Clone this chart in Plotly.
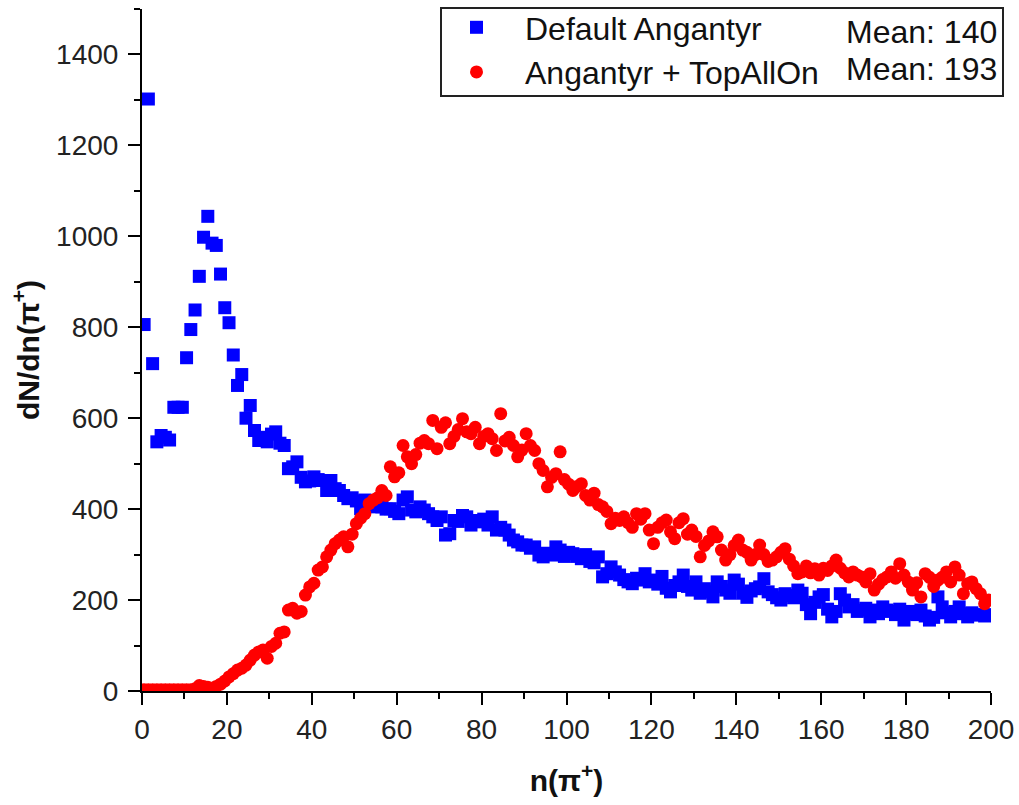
import plotly.graph_objects as go

# bin index n (points drawn at bin centres n + 0.5)
n_bins = list(range(200))
x_centres = [n + 0.5 for n in n_bins]

default_angantyr = [
    806, 1302, 720, 548, 562, 558, 552, 624, 624, 624,
    733, 795, 838, 912, 998, 1044, 985, 980, 917, 843,
    810, 739, 672, 696, 600, 628, 573, 551, 558, 548,
    565, 570, 545, 540, 489, 493, 504, 470, 460, 462,
    471, 465, 463, 441, 463, 445, 441, 430, 423, 425,
    418, 401, 420, 410, 405, 412, 405, 400, 401, 395,
    390, 420, 427, 398, 394, 405, 398, 390, 383, 375,
    383, 343, 346, 375, 373, 386, 383, 365, 375, 372,
    378, 365, 383, 354, 360, 354, 343, 332, 328, 321,
    321, 314, 317, 299, 295, 303, 299, 317, 310, 296,
    305, 302, 296, 291, 300, 285, 282, 295, 251, 258,
    273, 262, 255, 245, 240, 236, 248, 244, 258, 240,
    244, 235, 252, 226, 218, 232, 240, 255, 230, 222,
    240, 215, 225, 218, 207, 240, 230, 222, 215, 244,
    235, 215, 206, 220, 225, 229, 247, 218, 212, 205,
    200, 214, 210, 205, 222, 215, 190, 170, 195, 207,
    212, 180, 163, 175, 214, 200, 185, 190, 175, 178,
    182, 163, 178, 170, 185, 178, 175, 168, 180, 156,
    170, 175, 168, 178, 165, 156, 162, 207, 185, 172,
    163, 175, 185, 170, 163, 172, 168, 167, 165, 168,
]

angantyr_topallon = [
    3, 3, 3, 3, 3, 3, 3, 3, 3, 3,
    3, 3, 5, 12, 10, 8, 6, 10, 15, 22,
    31, 38, 46, 50, 57, 68, 79, 86, 90, 72,
    98, 105, 127, 130, 178, 182, 171, 175, 211, 229,
    237, 266, 273, 295, 310, 324, 332, 339, 317, 345,
    368, 380, 390, 412, 420, 425, 441, 430, 493, 471,
    480, 540, 515, 500, 520, 545, 551, 544, 595, 533,
    580, 590, 544, 560, 575, 599, 570, 566, 580, 544,
    560, 566, 555, 529, 610, 550, 558, 540, 515, 530,
    566, 540, 529, 500, 485, 449, 470, 478, 526, 465,
    455, 441, 450, 456, 430, 420, 435, 410, 405, 395,
    368, 380, 375, 383, 370, 360, 390, 378, 390, 354,
    324, 360, 370, 376, 350, 335, 370, 379, 345, 354,
    340, 295, 320, 330, 350, 339, 310, 288, 300, 320,
    332, 310, 305, 288, 300, 321, 300, 285, 288, 295,
    305, 313, 290, 275, 258, 262, 275, 260, 269, 255,
    270, 265, 275, 288, 270, 260, 251, 262, 255, 251,
    240, 258, 222, 235, 245, 251, 262, 248, 280, 255,
    240, 222, 238, 207, 258, 250, 230, 244, 250, 262,
    240, 273, 255, 214, 236, 240, 225, 214, 192, 200,
]

series_names = ["Default Angantyr", "Angantyr + TopAllOn"]
series_means = ["Mean: 140", "Mean: 193"]

x_tick_vals = list(range(0, 201, 20))
y_tick_vals = list(range(0, 1401, 200))

FONT = "Liberation Sans, Arial, sans-serif"

fig = go.Figure()
fig.add_trace(go.Scatter(
    x=x_centres, y=default_angantyr, mode="markers", name=series_names[0],
    marker=dict(symbol="square", size=13, color="#0000FF", line=dict(width=0)),
))
fig.add_trace(go.Scatter(
    x=x_centres, y=angantyr_topallon, mode="markers", name=series_names[1],
    marker=dict(symbol="circle", size=13, color="#FF0000", line=dict(width=0)),
))

L, R, T, B = 142, 28, 9, 114
W, H = 1019, 805
pw, ph = W - L - R, H - T - B

def px_x(p):
    return (p - L) / pw

def px_y(p):
    return (H - B - p) / ph

axis_common = dict(
    showline=True, linecolor="black", linewidth=2,
    ticks="outside", ticklen=12, tickwidth=2, tickcolor="black",
    showgrid=False, zeroline=False,
    tickfont=dict(family=FONT, size=28, color="#222222"),
    mirror=False,
)

fig.update_xaxes(
    range=[0, 200], tickvals=x_tick_vals,
    minor=dict(ticks="outside", ticklen=6, tickwidth=2, tickcolor="black", dtick=10, tick0=0),
    title=dict(text="<b>n(π<sup>+</sup>)</b>", font=dict(family=FONT, size=30, color="#111111"), standoff=26),
    **axis_common,
)
fig.update_yaxes(
    range=[0, 1500], tickvals=y_tick_vals,
    minor=dict(ticks="outside", ticklen=6, tickwidth=2, tickcolor="black", dtick=100, tick0=0),
    title=dict(text="<b>dN/dn(π<sup>+</sup>)</b>", font=dict(family=FONT, size=30, color="#111111"), standoff=8),
    ticklabelstandoff=4,
    **axis_common,
)

LEG_FONT = 32

fig.update_layout(
    width=W, height=H,
    margin=dict(l=L, r=R, t=T, b=B, autoexpand=False),
    paper_bgcolor="white", plot_bgcolor="white",
    font=dict(family=FONT, color="#111111"),
    showlegend=True,
    legend=dict(
        x=px_x(428), y=px_y(0), xanchor="left", yanchor="top",
        bgcolor="rgba(0,0,0,0)", borderwidth=0,
        font=dict(family=FONT, size=LEG_FONT, color="#111111"),
        itemwidth=87, tracegroupgap=0,
    ),
    shapes=[dict(
        type="rect", xref="paper", yref="paper",
        x0=px_x(441), x1=px_x(1003), y0=px_y(96), y1=px_y(8),
        line=dict(color="#222222", width=2), fillcolor="rgba(0,0,0,0)",
    )],
    annotations=[
        dict(text=series_means[0], xref="paper", yref="paper", x=px_x(999), y=px_y(32),
             xanchor="right", yanchor="middle", showarrow=False,
             font=dict(family=FONT, size=LEG_FONT, color="#111111")),
        dict(text=series_means[1], xref="paper", yref="paper", x=px_x(999), y=px_y(69),
             xanchor="right", yanchor="middle", showarrow=False,
             font=dict(family=FONT, size=LEG_FONT, color="#111111")),
    ],
)

fig.write_html("out.html")
